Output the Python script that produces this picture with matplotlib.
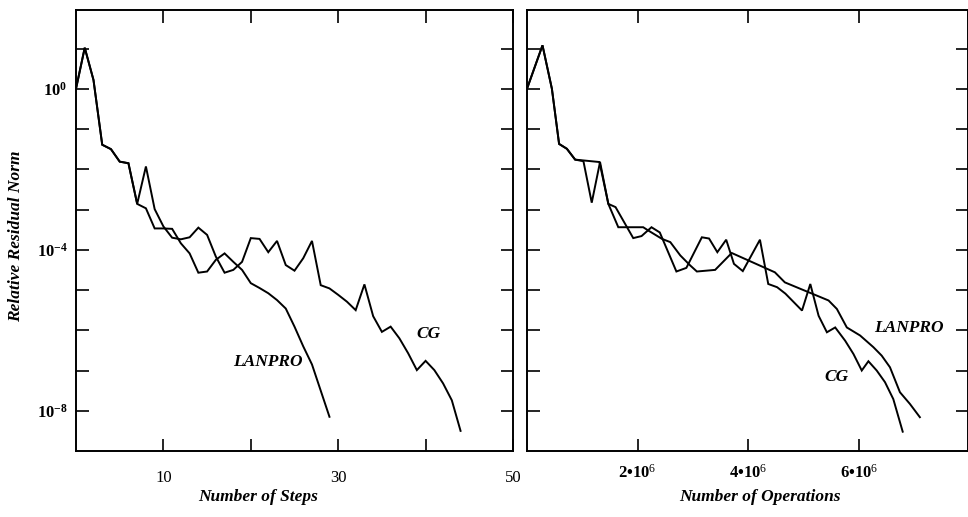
import numpy as np
import matplotlib
matplotlib.use("Agg")
import matplotlib.pyplot as plt
from matplotlib.ticker import FixedLocator, FixedFormatter, NullLocator

plt.rcParams["font.family"] = ["Liberation Serif", "DejaVu Serif"]
plt.rcParams["mathtext.fontset"] = "custom"
plt.rcParams["mathtext.rm"] = "Liberation Serif"
plt.rcParams["mathtext.it"] = "Liberation Serif:italic"
plt.rcParams["mathtext.bf"] = "Liberation Serif:bold"

# residual norms are kept as log10 exponents

# left panel: residual vs number of steps
cg_steps = list(range(45))
cg_log = [0.0, 1.02, 0.22, -1.39, -1.50, -1.81, -1.85, -2.86, -1.93, -2.99,
          -3.42, -3.70, -3.74, -3.69, -3.45, -3.63, -4.17, -4.57, -4.50, -4.30,
          -3.71, -3.73, -4.06, -3.78, -4.38, -4.52, -4.21, -3.78, -4.88, -4.96,
          -5.12, -5.29, -5.50, -4.86, -5.65, -6.04, -5.91, -6.20, -6.57, -6.99,
          -6.76, -6.99, -7.32, -7.74, -8.50]
lan_steps = list(range(30))
lan_log = [0.0, 1.02, 0.22, -1.39, -1.50, -1.81, -1.85, -2.86, -2.97, -3.47,
           -3.47, -3.48, -3.84, -4.09, -4.57, -4.54, -4.25, -4.09, -4.30, -4.50,
           -4.83, -4.95, -5.08, -5.25, -5.46, -5.91, -6.40, -6.85, -7.50, -8.15]

# right panel: residual vs number of operations (units of 1e6)
cg_ops = [0, 0.28, 0.45, 0.58, 0.72, 0.87, 1.02, 1.17, 1.32, 1.47,
          1.60, 1.92, 2.07, 2.25, 2.40, 2.70, 2.88, 3.16, 3.29, 3.44,
          3.60, 3.74, 3.90, 4.21, 4.36, 4.52, 4.67, 4.97, 5.12, 5.27,
          5.42, 5.57, 5.75, 5.90, 6.05, 6.17, 6.32, 6.47, 6.62, 6.79]
cg_ops_log = [0.0, 1.08, 0.0, -1.37, -1.49, -1.76, -1.80, -2.83, -1.82, -2.86,
              -2.94, -3.71, -3.66, -3.44, -3.57, -4.54, -4.45, -3.69, -3.72, -4.06,
              -3.75, -4.35, -4.53, -3.75, -4.85, -4.93, -5.09, -5.51, -4.85, -5.64,
              -6.05, -5.93, -6.26, -6.59, -7.00, -6.77, -7.00, -7.29, -7.71, -8.52]
lan_ops = [0, 0.28, 0.45, 0.58, 0.72, 0.87, 1.31, 1.47, 1.65, 2.10,
           2.19, 2.44, 2.59, 2.77, 2.95, 3.07, 3.40, 3.70, 4.48, 4.66,
           4.94, 5.24, 5.45, 5.60, 5.78, 6.02, 6.26, 6.41, 6.56, 6.74,
           6.92, 7.10]
lan_ops_log = [0.0, 1.08, 0.0, -1.37, -1.49, -1.76, -1.82, -2.86, -3.44, -3.44,
               -3.52, -3.73, -3.81, -4.14, -4.39, -4.54, -4.50, -4.08, -4.56, -4.81,
               -4.97, -5.14, -5.26, -5.47, -5.93, -6.13, -6.42, -6.63, -6.92, -7.54,
               -7.83, -8.16]

decades = list(range(-8, 2))
ylabels_shown = {0: r"$\mathbf{10^{0}}$", -4: r"$\mathbf{10^{-4}}$", -8: r"$\mathbf{10^{-8}}$"}
step_ticks = [10, 20, 30, 40, 50]
step_labels = ["10", "", "30", "", "50"]
ops_ticks = [2e6, 4e6, 6e6]
ops_labels = ["2\u202210$^{6}$", "4\u202210$^{6}$", "6\u202210$^{6}$"]

W, H = 968, 517
fig = plt.figure(figsize=(W / 100, H / 100), dpi=100)

top_px, bot_px = 9.5, 451
ax1 = fig.add_axes([76 / W, 1 - bot_px / H, (513 - 76) / W, (bot_px - top_px) / H])
ax2 = fig.add_axes([527 / W, 1 - bot_px / H, (968 - 527) / W, (bot_px - top_px) / H])

line_kw = dict(color="black", lw=1.4, solid_joinstyle="miter")
ax1.plot(cg_steps, 10.0 ** np.array(cg_log), **line_kw)
ax1.plot(lan_steps, 10.0 ** np.array(lan_log), **line_kw)
ax2.plot(np.array(cg_ops) * 1e6, 10.0 ** np.array(cg_ops_log), **line_kw)
ax2.plot(np.array(lan_ops) * 1e6, 10.0 ** np.array(lan_ops_log), **line_kw)

for ax in (ax1, ax2):
    ax.set_yscale("log")
    ax.set_ylim(1e-9, 10 ** 1.97)
    ax.yaxis.set_major_locator(FixedLocator([10.0 ** d for d in decades]))
    ax.yaxis.set_minor_locator(NullLocator())
    ax.tick_params(which="both", direction="in", length=9, width=1.2,
                   top=True, right=True, labelsize=12)
    for s in ax.spines.values():
        s.set_linewidth(1.4)

ax1.set_xlim(0, 50)
ax1.xaxis.set_major_locator(FixedLocator(step_ticks))
ax1.xaxis.set_major_formatter(FixedFormatter(step_labels))
ax1.yaxis.set_major_formatter(FixedFormatter([ylabels_shown.get(d, "") for d in decades]))
ax1.tick_params(axis="x", pad=14)
ax1.tick_params(axis="y", pad=6)

ax2.set_xlim(0, 7.97e6)
ax2.xaxis.set_major_locator(FixedLocator(ops_ticks))
ax2.xaxis.set_major_formatter(FixedFormatter(ops_labels))
ax2.yaxis.set_major_formatter(FixedFormatter([""] * len(decades)))
ax2.tick_params(axis="x", pad=9)
for t in ax2.get_xticklabels():
    t.set_fontweight("bold")

lab = dict(fontsize=12.5, fontweight="bold", fontstyle="italic")
fig.text(16 / W, 1 - 236 / H, "Relative Residual Norm", rotation=90,
         ha="center", va="center", **lab)
fig.text(258 / W, 1 - 497 / H, "Number of Steps", ha="center", va="center", **lab)
fig.text(760 / W, 1 - 497 / H, "Number of Operations", ha="center", va="center", **lab)

# curve labels
ax1.text(22, 10 ** -6.8, "LANPRO", ha="center", va="center", **lab)
ax1.text(40.3, 10 ** -6.1, "CG", ha="center", va="center", **lab)
ax2.text(6.9e6, 10 ** -5.95, "LANPRO", ha="center", va="center", **lab)
ax2.text(5.6e6, 10 ** -7.15, "CG", ha="center", va="center", **lab)

fig.savefig("out.png", dpi=100)
